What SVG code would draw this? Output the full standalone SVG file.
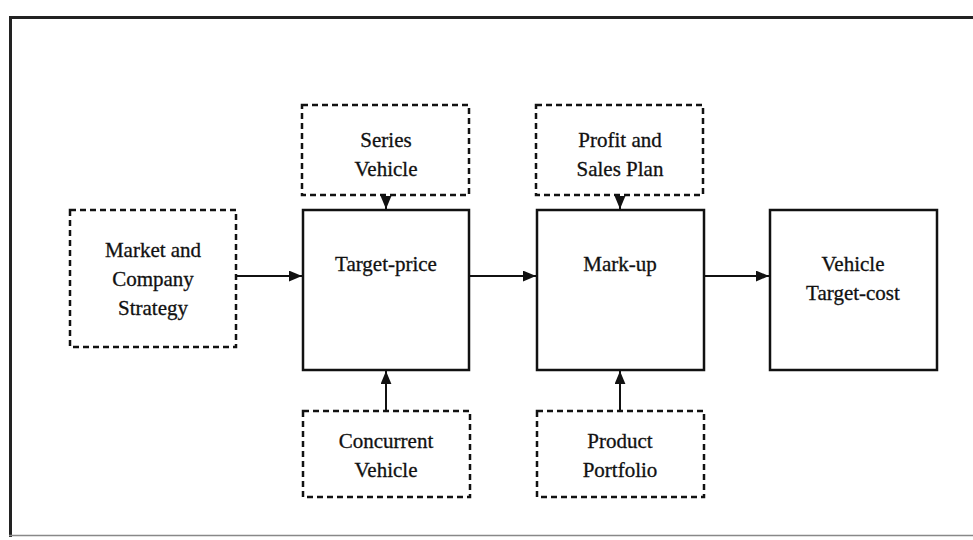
<svg xmlns="http://www.w3.org/2000/svg" width="973" height="540" viewBox="0 0 973 540">
<defs>
<marker id="ah" viewBox="0 0 12 10" refX="12" refY="5" markerWidth="13" markerHeight="11" markerUnits="userSpaceOnUse" orient="auto">
<path d="M0,0 L12,5 L0,10 z" fill="#111"/>
</marker>
<style>
.solid{fill:#fff;stroke:#111;stroke-width:2.5}
.dash{fill:#fff;stroke:#111;stroke-width:2.5;stroke-dasharray:6 4}
.t{font-family:"Liberation Serif","Times New Roman",serif;font-size:21px;fill:#111;text-anchor:middle;stroke:#111;stroke-width:0.3}
.c{stroke:#111;stroke-width:2;fill:none;marker-end:url(#ah)}
</style>
</defs>
<rect width="973" height="540" fill="#fff"/>
<g id="frame" fill="none">
<line x1="10.5" y1="17" x2="10.5" y2="537" stroke="#222" stroke-width="3"/>
<line x1="9" y1="17.5" x2="973" y2="17.5" stroke="#222" stroke-width="3"/>
<line x1="9" y1="535.5" x2="973" y2="535.5" stroke="#888" stroke-width="1.5"/>
</g>
<g id="series"><rect class="dash" x="302" y="105" width="167" height="90"/><text class="t" x="386" y="147">Series</text><text class="t" x="386" y="176">Vehicle</text></g>
<g id="profit"><rect class="dash" x="536" y="105" width="167" height="90"/><text class="t" x="620" y="147">Profit and</text><text class="t" x="620" y="176">Sales Plan</text></g>
<g id="market"><rect class="dash" x="70" y="210" width="166" height="137"/><text class="t" x="153" y="257">Market and</text><text class="t" x="153" y="286">Company</text><text class="t" x="153" y="315">Strategy</text></g>
<g id="target-price"><rect class="solid" x="303" y="210" width="166" height="160"/><text class="t" x="386" y="271">Target-price</text></g>
<g id="markup"><rect class="solid" x="537" y="210" width="167" height="160"/><text class="t" x="620" y="271">Mark-up</text></g>
<g id="vehicle-target-cost"><rect class="solid" x="770" y="210" width="167" height="160"/><text class="t" x="853" y="271">Vehicle</text><text class="t" x="853" y="300">Target-cost</text></g>
<g id="concurrent"><rect class="dash" x="303" y="411" width="167" height="86"/><text class="t" x="386" y="448">Concurrent</text><text class="t" x="386" y="477">Vehicle</text></g>
<g id="portfolio"><rect class="dash" x="537" y="411" width="167" height="86"/><text class="t" x="620" y="448">Product</text><text class="t" x="620" y="477">Portfolio</text></g>
<g id="connectors">
<line class="c" x1="386" y1="196" x2="386" y2="209"/>
<line class="c" x1="620" y1="196" x2="620" y2="209"/>
<line class="c" x1="237" y1="276" x2="302" y2="276"/>
<line class="c" x1="470" y1="276" x2="536" y2="276"/>
<line class="c" x1="705" y1="276" x2="769" y2="276"/>
<line class="c" x1="386" y1="410" x2="386" y2="371"/>
<line class="c" x1="620" y1="410" x2="620" y2="371"/>
</g>
</svg>
